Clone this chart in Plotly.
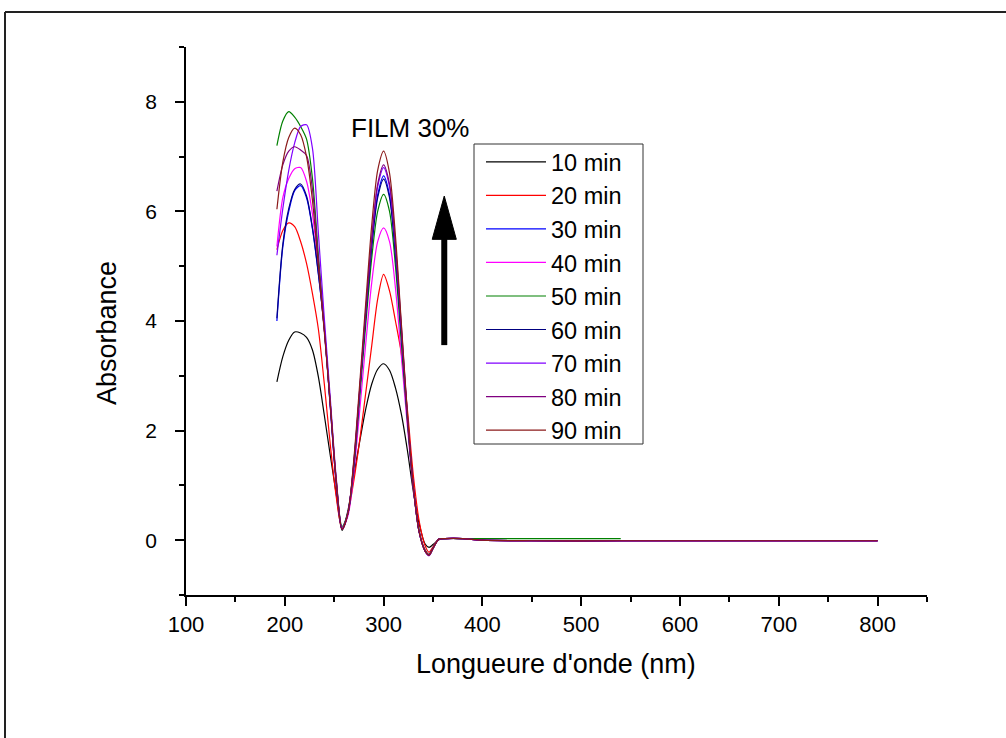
import plotly.graph_objects as go

wavelength = [192, 198, 204, 210, 216, 222, 228, 234, 240, 246, 252, 258, 264, 270, 276,
              282, 288, 294, 300, 306, 312, 318, 324, 330, 336, 342, 346, 350, 356, 362,
              380, 400, 450, 540, 600, 700, 800]

a10 = [2.89, 3.35, 3.65, 3.80, 3.78, 3.70, 3.47, 2.98, 2.28, 1.55, 0.85, 0.18, 0.55, 1.20, 1.82,
       2.40, 2.85, 3.12, 3.22, 3.10, 2.78, 2.30, 1.65, 0.90, 0.30, -0.07, -0.13, -0.08, 0.01, 0.03,
       0.03, 0.00, -0.01, -0.01, -0.01, -0.01, -0.01]
a20 = [5.30, 5.65, 5.79, 5.72, 5.45, 5.05, 4.50, 3.85, 2.85, 1.75, 0.80, 0.20, 0.50, 1.10, 1.85,
       2.70, 3.55, 4.40, 4.85, 4.55, 4.00, 3.40, 2.40, 1.20, 0.35, -0.10, -0.22, -0.12, 0.02, 0.03,
       0.03, 0.00, -0.01, -0.01, -0.01, -0.01, -0.01]
a30 = [4.00, 5.35, 6.00, 6.38, 6.47, 6.25, 5.68, 4.85, 3.85, 2.45, 1.05, 0.20, 0.50, 1.40, 2.75,
       4.15, 5.40, 6.30, 6.65, 6.30, 5.25, 3.80, 2.25, 0.98, 0.15, -0.20, -0.27, -0.15, 0.02, 0.03,
       0.03, 0.00, -0.01, -0.01, -0.01, -0.01, -0.01]
a40 = [5.36, 6.25, 6.60, 6.78, 6.80, 6.55, 5.95, 5.00, 3.85, 2.45, 1.05, 0.22, 0.45, 1.25, 2.40,
       3.60, 4.70, 5.45, 5.70, 5.45, 4.60, 3.35, 2.10, 0.95, 0.15, -0.18, -0.26, -0.14, 0.02, 0.03,
       0.03, 0.00, -0.01, -0.01, -0.01, -0.01, -0.01]
a50 = [7.20, 7.65, 7.82, 7.72, 7.55, 7.32, 6.60, 5.20, 3.90, 2.50, 1.10, 0.25, 0.50, 1.35, 2.65,
       3.95, 5.15, 6.00, 6.31, 6.00, 5.00, 3.60, 2.20, 0.97, 0.15, -0.18, -0.26, -0.14, 0.02, 0.03,
       0.03, 0.03, 0.03, 0.03, None, None, None]
a60 = [4.05, 5.40, 6.05, 6.40, 6.50, 6.28, 5.70, 4.87, 3.85, 2.45, 1.05, 0.20, 0.50, 1.40, 2.75,
       4.10, 5.35, 6.25, 6.59, 6.25, 5.20, 3.75, 2.25, 0.98, 0.15, -0.20, -0.27, -0.15, 0.02, 0.03,
       0.03, 0.00, -0.01, -0.01, -0.01, -0.01, -0.01]
a70 = [5.20, 6.05, 6.75, 7.25, 7.55, 7.58, 7.15, 5.60, 4.05, 2.60, 1.15, 0.22, 0.50, 1.45, 2.80,
       4.20, 5.50, 6.45, 6.80, 6.45, 5.35, 3.85, 2.30, 1.00, 0.15, -0.20, -0.28, -0.15, 0.02, 0.03,
       0.03, 0.00, -0.01, -0.01, -0.01, -0.01, -0.01]
a80 = [6.37, 6.85, 7.10, 7.18, 7.12, 7.02, 6.40, 5.10, 3.85, 2.50, 1.10, 0.20, 0.50, 1.45, 2.80,
       4.20, 5.50, 6.50, 6.85, 6.50, 5.40, 3.90, 2.30, 1.00, 0.15, -0.20, -0.28, -0.15, 0.02, 0.03,
       0.03, 0.00, -0.01, -0.01, -0.01, -0.01, -0.01]
a90 = [6.04, 6.90, 7.35, 7.52, 7.40, 7.00, 6.20, 5.00, 3.80, 2.50, 1.10, 0.20, 0.50, 1.50, 2.90,
       4.35, 5.75, 6.75, 7.10, 6.70, 5.55, 3.95, 2.35, 1.00, 0.15, -0.20, -0.27, -0.15, 0.02, 0.03,
       0.03, 0.00, -0.01, -0.01, -0.01, -0.01, -0.01]

series_names = ["10 min", "20 min", "30 min", "40 min", "50 min", "60 min", "70 min", "80 min", "90 min"]
series_values = [a10, a20, a30, a40, a50, a60, a70, a80, a90]
colors = ["#000000", "#FF0000", "#0000FF", "#FF00FF", "#008000", "#000080", "#8000FF", "#800080", "#8B1A1A"]

FONT = "Liberation Sans, Arial, sans-serif"


def px_x(px):
    return (px - 186) / 741


def px_y(py):
    return (595 - py) / 548


fig = go.Figure()
for i, (name, vals, col) in enumerate(zip(series_names, series_values, colors)):
    fig.add_trace(go.Scatter(
        x=wavelength, y=vals, name=name, mode="lines",
        line=dict(color=col, width=1.2, shape="spline", smoothing=0.8),
        legendgroup=f"g{i}", connectgaps=False,
    ))

# Arrow (drawn as shapes in data coords)
fig.add_shape(type="line", x0=361.4, x1=361.4, y0=3.56, y1=5.55,
              line=dict(color="black", width=6))
fig.add_shape(type="path", path="M 349.2 5.49 L 373.6 5.49 L 361.4 6.28 Z",
              fillcolor="black", line=dict(color="black", width=1))

# outer frame
fig.add_shape(type="line", xref="paper", yref="paper",
              x0=px_x(5), x1=px_x(5), y0=px_y(12), y1=px_y(740),
              line=dict(color="#222222", width=2))
fig.add_shape(type="line", xref="paper", yref="paper",
              x0=px_x(5), x1=px_x(1010), y0=px_y(12), y1=px_y(12),
              line=dict(color="#222222", width=2))

# legend box
fig.add_shape(type="rect", xref="paper", yref="paper",
              x0=px_x(474), x1=px_x(643), y0=px_y(144), y1=px_y(444),
              line=dict(color="#333333", width=1), fillcolor="rgba(0,0,0,0)")

fig.add_annotation(x=px_x(410), y=px_y(128), xref="paper", yref="paper",
                   xanchor="center", yanchor="middle",
                   text="FILM 30%", showarrow=False, font=dict(family=FONT, size=26, color="black"))

# axis titles
fig.add_annotation(x=px_x(556), y=px_y(664), xref="paper", yref="paper",
                   xanchor="center", yanchor="middle",
                   text="Longueure d'onde (nm)", showarrow=False,
                   font=dict(family=FONT, size=27, color="black"))
fig.add_annotation(x=px_x(107), y=px_y(333), xref="paper", yref="paper",
                   xanchor="center", yanchor="middle", textangle=-90,
                   text="Absorbance", showarrow=False,
                   font=dict(family=FONT, size=27, color="black"))

fig.update_layout(
    width=1006, height=738,
    margin=dict(l=186, r=79, t=47, b=143),
    paper_bgcolor="white", plot_bgcolor="white",
    font=dict(family=FONT, color="black"),
    legend=dict(
        x=px_x(481), y=px_y(140), xanchor="left", yanchor="top",
        borderwidth=0, bgcolor="rgba(0,0,0,0)",
        font=dict(family=FONT, size=23.5, color="black"),
        itemwidth=60, tracegroupgap=0,
    ),
    xaxis=dict(
        range=[100, 850], dtick=100, tick0=100,
        showline=True, linecolor="black", linewidth=1.5,
        ticks="outside", ticklen=9, tickwidth=1.5, tickcolor="black",
        minor=dict(dtick=50, tick0=100, ticks="outside", ticklen=5, tickwidth=1.5, tickcolor="black"),
        showgrid=False, zeroline=False, mirror=False,
        tickfont=dict(family=FONT, size=22),
        ticklabelstandoff=0,
    ),
    yaxis=dict(
        range=[-1, 9], dtick=2, tick0=0,
        showline=True, linecolor="black", linewidth=1.5,
        ticks="outside", ticklen=9, tickwidth=1.5, tickcolor="black",
        minor=dict(dtick=1, tick0=0, ticks="outside", ticklen=5, tickwidth=1.5, tickcolor="black"),
        showgrid=False, zeroline=False, mirror=False,
        tickfont=dict(family=FONT, size=21),
        ticklabelstandoff=14,
    ),
)

fig.write_html("out.html")
